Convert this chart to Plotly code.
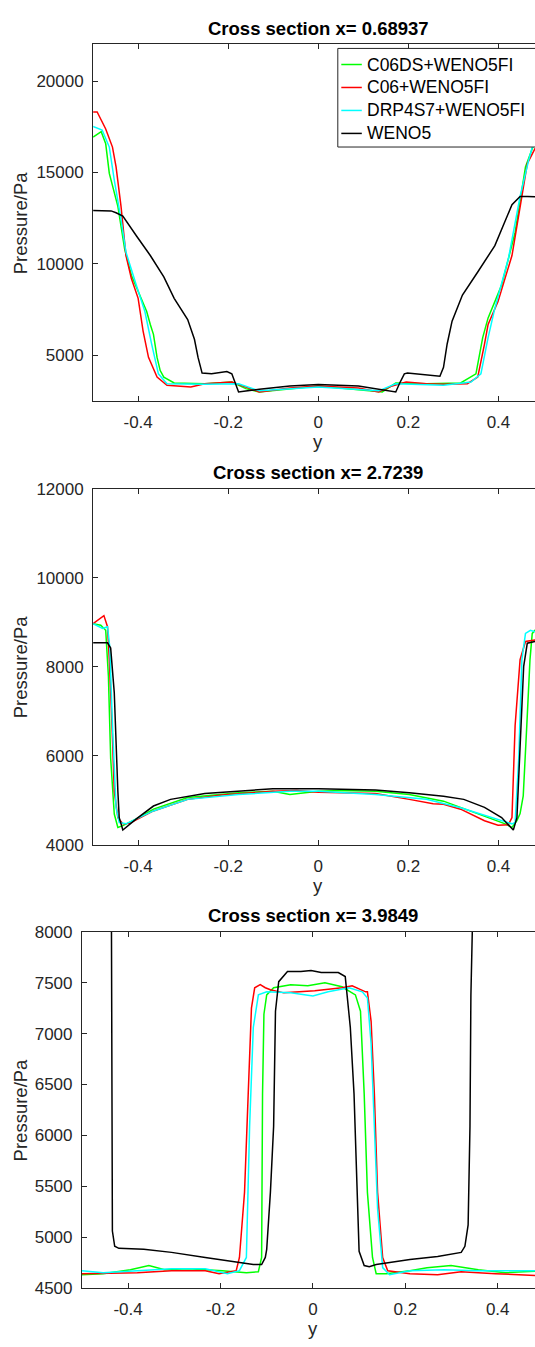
import plotly.graph_objects as go

W, H = 535, 1347

# ---------------- data: cross section x = 0.68937 ----------------
s1_weno5_y = [-0.5, -0.46, -0.449, -0.434, -0.404, -0.373, -0.343, -0.320, -0.290, -0.275, -0.267, -0.258, -0.237, -0.203, -0.192, -0.184, -0.177, -0.161, -0.131, -0.063, 0.0, 0.089, 0.157, 0.172, 0.180, 0.191, 0.198, 0.270, 0.278, 0.286, 0.297, 0.320, 0.354, 0.392, 0.430, 0.448, 0.464, 0.481, 0.5]
s1_weno5_p = [12920, 12900, 12800, 12620, 11540, 10460, 9290, 8120, 6960, 5880, 4890, 4030, 3990, 4120, 3990, 3450, 3000, 3050, 3150, 3330, 3410, 3330, 3090, 3000, 3450, 3990, 4030, 3860, 4350, 5610, 6870, 8300, 9560, 11000, 13240, 13690, 13690, 13660, 13650]

s1_c06_y = [-0.5, -0.491, -0.472, -0.457, -0.449, -0.438, -0.427, -0.415, -0.400, -0.389, -0.377, -0.358, -0.336, -0.283, -0.252, -0.192, -0.161, -0.131, -0.063, 0.0, 0.089, 0.134, 0.164, 0.195, 0.240, 0.278, 0.331, 0.354, 0.369, 0.377, 0.399, 0.430, 0.452, 0.464, 0.481, 0.5]
s1_c06_p = [18310, 18310, 17380, 16390, 15310, 13150, 10460, 9200, 8120, 6330, 4890, 3810, 3360, 3270, 3450, 3540, 3270, 3000, 3220, 3330, 3220, 3000, 3330, 3540, 3450, 3420, 3450, 3810, 5610, 6690, 7940, 10460, 13690, 15490, 16300, 16350]

s1_c06ds_y = [-0.5, -0.482, -0.472, -0.464, -0.445, -0.430, -0.415, -0.396, -0.381, -0.373, -0.366, -0.358, -0.351, -0.343, -0.320, -0.252, -0.192, -0.161, -0.131, 0.0, 0.142, 0.172, 0.240, 0.316, 0.350, 0.365, 0.377, 0.407, 0.437, 0.460, 0.481, 0.5]
s1_c06ds_p = [16930, 17230, 16570, 14950, 13150, 10820, 9380, 8300, 7400, 6690, 6150, 4890, 4170, 3810, 3490, 3450, 3540, 3180, 3000, 3330, 3000, 3490, 3450, 3490, 3990, 5970, 7050, 8840, 11720, 15310, 16700, 16800]

s1_drp_y = [-0.5, -0.480, -0.464, -0.453, -0.438, -0.427, -0.404, -0.385, -0.370, -0.355, -0.336, -0.252, -0.177, -0.131, 0.0, 0.134, 0.172, 0.278, 0.339, 0.361, 0.377, 0.392, 0.422, 0.448, 0.467, 0.481, 0.5]
s1_drp_p = [17520, 17320, 16390, 14590, 12440, 10640, 8840, 7400, 5610, 3990, 3450, 3420, 3450, 3060, 3270, 3060, 3450, 3360, 3540, 3990, 5970, 7580, 10280, 13690, 15670, 16900, 17000]

# ---------------- data: cross section x = 2.7239 ----------------
s2_weno5_y = [-0.5, -0.468, -0.461, -0.453, -0.445, -0.442, -0.434, -0.404, -0.366, -0.328, -0.252, -0.177, -0.101, 0.0, 0.127, 0.202, 0.278, 0.323, 0.369, 0.407, 0.433, 0.441, 0.448, 0.456, 0.464, 0.481, 0.5]
s2_weno5_p = [8540, 8540, 8420, 7420, 5200, 4610, 4330, 4580, 4870, 5020, 5150, 5200, 5260, 5260, 5230, 5170, 5090, 5020, 4840, 4610, 4330, 4610, 6310, 8010, 8530, 8570, 8570]

s2_c06_y = [-0.5, -0.476, -0.468, -0.464, -0.458, -0.453, -0.445, -0.434, -0.419, -0.366, -0.290, -0.214, -0.101, -0.048, 0.0, 0.051, 0.127, 0.202, 0.255, 0.278, 0.316, 0.369, 0.399, 0.422, 0.430, 0.437, 0.448, 0.460, 0.481, 0.5]
s2_c06_p = [8970, 9150, 8900, 8160, 6680, 5200, 4610, 4470, 4480, 4760, 5020, 5120, 5200, 5220, 5180, 5170, 5150, 5020, 4920, 4910, 4800, 4540, 4440, 4450, 4610, 6680, 8160, 8570, 8600, 8600]

s2_c06ds_y = [-0.5, -0.483, -0.472, -0.466, -0.461, -0.453, -0.445, -0.434, -0.404, -0.366, -0.290, -0.177, -0.101, -0.063, 0.0, 0.051, 0.127, 0.202, 0.278, 0.354, 0.415, 0.430, 0.441, 0.448, 0.455, 0.463, 0.470, 0.475, 0.481, 0.5]
s2_c06ds_p = [8970, 8935, 8820, 7790, 5940, 4690, 4390, 4430, 4580, 4800, 5060, 5170, 5200, 5130, 5200, 5220, 5200, 5130, 4980, 4690, 4470, 4390, 4540, 4700, 5100, 6700, 8160, 8750, 8820, 8820]

s2_drp_y = [-0.5, -0.487, -0.479, -0.468, -0.463, -0.457, -0.449, -0.442, -0.427, -0.404, -0.366, -0.290, -0.177, -0.063, 0.0, 0.127, 0.240, 0.316, 0.392, 0.430, 0.437, 0.445, 0.452, 0.460, 0.471, 0.481, 0.5]
s2_drp_p = [8970, 8900, 8860, 8900, 8450, 6680, 4830, 4500, 4470, 4580, 4760, 5020, 5130, 5200, 5200, 5130, 5020, 4830, 4580, 4470, 4500, 5940, 8160, 8750, 8820, 8790, 8790]

# ---------------- data: cross section x = 3.9849 ----------------
s3_weno5_y = [-0.5, -0.44, -0.436, -0.434, -0.429, -0.42, -0.366, -0.306, -0.233, -0.159, -0.129, -0.111, -0.103, -0.100, -0.092, -0.085, -0.081, -0.074, -0.055, -0.026, -0.004, 0.018, 0.055, 0.070, 0.081, 0.089, 0.096, 0.100, 0.111, 0.122, 0.137, 0.210, 0.270, 0.321, 0.329, 0.336, 0.340, 0.342, 0.345, 0.35, 0.5]
s3_weno5_p = [8550, 8550, 8000, 5060, 4910, 4890, 4880, 4850, 4800, 4750, 4730, 4730, 4800, 4880, 5440, 6090, 7220, 7510, 7610, 7610, 7620, 7600, 7600, 7560, 7060, 6410, 5440, 4860, 4720, 4710, 4730, 4780, 4810, 4850, 4910, 5120, 6090, 7380, 8000, 8600, 8600]

s3_c06_y = [-0.5, -0.38, -0.306, -0.233, -0.203, -0.166, -0.159, -0.148, -0.140, -0.133, -0.126, -0.114, -0.103, -0.092, -0.063, -0.033, 0.004, 0.063, 0.085, 0.114, 0.118, 0.126, 0.133, 0.140, 0.151, 0.162, 0.21, 0.27, 0.321, 0.395, 0.5]
s3_c06_p = [4640, 4650, 4670, 4670, 4640, 4670, 4800, 5440, 6410, 7250, 7450, 7480, 7450, 7430, 7400, 7410, 7420, 7450, 7470, 7410, 7410, 7120, 6410, 5440, 4800, 4670, 4640, 4630, 4660, 4640, 4620]

s3_c06ds_y = [-0.5, -0.454, -0.395, -0.355, -0.321, -0.27, -0.196, -0.144, -0.118, -0.111, -0.109, -0.106, -0.100, -0.085, -0.048, -0.011, 0.026, 0.048, 0.063, 0.092, 0.103, 0.111, 0.118, 0.129, 0.137, 0.159, 0.21, 0.247, 0.299, 0.358, 0.417, 0.5]
s3_c06ds_p = [4630, 4640, 4680, 4720, 4680, 4690, 4670, 4650, 4660, 4800, 6410, 7190, 7380, 7450, 7480, 7470, 7500, 7480, 7460, 7380, 7220, 6410, 5440, 4800, 4640, 4640, 4670, 4700, 4720, 4680, 4650, 4670]

s3_drp_y = [-0.5, -0.454, -0.38, -0.306, -0.233, -0.185, -0.159, -0.144, -0.137, -0.129, -0.118, -0.100, -0.048, 0.0, 0.033, 0.078, 0.107, 0.118, 0.126, 0.133, 0.140, 0.151, 0.166, 0.21, 0.284, 0.358, 0.417, 0.5]
s3_drp_p = [4670, 4650, 4670, 4690, 4690, 4640, 4670, 4800, 6090, 7060, 7380, 7410, 7400, 7370, 7410, 7450, 7410, 7350, 6900, 6090, 5280, 4700, 4630, 4670, 4680, 4670, 4670, 4670]

titles = ["Cross section x= 0.68937", "Cross section x= 2.7239", "Cross section x= 3.9849"]
names = ["C06DS+WENO5FI", "C06+WENO5FI", "DRP4S7+WENO5FI", "WENO5"]
colors = ["#00ff00", "#ff0000", "#00ffff", "#000000"]
y_ticks = [[5000, 10000, 15000, 20000],
           [4000, 6000, 8000, 10000, 12000],
           [4500, 5000, 5500, 6000, 6500, 7000, 7500, 8000]]
y_ticktext = [[str(v) for v in t] for t in y_ticks]
y_ranges = [[2500, 22000], [4000, 12000], [4500, 8000]]
x_ticks = [-0.4, -0.2, 0, 0.2, 0.4]
x_ticktext = ["-0.4", "-0.2", "0", "0.2", "0.4"]

sections = [
    [(s1_c06ds_y, s1_c06ds_p), (s1_c06_y, s1_c06_p), (s1_drp_y, s1_drp_p), (s1_weno5_y, s1_weno5_p)],
    [(s2_c06ds_y, s2_c06ds_p), (s2_c06_y, s2_c06_p), (s2_drp_y, s2_drp_p), (s2_weno5_y, s2_weno5_p)],
    [(s3_c06ds_y, s3_c06ds_p), (s3_c06_y, s3_c06_p), (s3_drp_y, s3_drp_p), (s3_weno5_y, s3_weno5_p)],
]

# ---------------- layout geometry (pixels) ----------------
ax_left = [93.1, 93.1, 81.9]
ax_full_right = [543.5, 543.5, 543.9]   # axes extend past the page edge
ax_top = [36.0, 486.7, 936.0]
ax_bot = [397.7, 847.7, 1297.3]

FONT = "Liberation Sans, Arial, sans-serif"
AX_COL = "#262626"

def px(x):
    return x / W

def py(y):
    return 1 - y / H

fig = go.Figure()

for i, sec in enumerate(sections):
    xa = "x" if i == 0 else f"x{i+1}"
    ya = "y" if i == 0 else f"y{i+1}"
    for j, (yy, pp) in enumerate(sec):
        fig.add_trace(go.Scatter(
            x=yy, y=pp, mode="lines", name=names[j],
            line=dict(color=colors[j], width=1.5),
            xaxis=xa, yaxis=ya, showlegend=False,
        ))
    span = ax_full_right[i] - ax_left[i]
    x_right = -0.5 + (W - ax_left[i]) / span
    key_x = "xaxis" if i == 0 else f"xaxis{i+1}"
    key_y = "yaxis" if i == 0 else f"yaxis{i+1}"
    fig.layout[key_x] = dict(
        domain=[px(ax_left[i]), 1.0], anchor=ya, range=[-0.5, x_right],
        tickvals=x_ticks, ticktext=x_ticktext, ticks="inside", ticklen=5,
        tickcolor=AX_COL, showline=True, linecolor=AX_COL, linewidth=1,
        mirror="ticks", showgrid=False, zeroline=False,
        tickfont=dict(family=FONT, size=17, color=AX_COL), ticklabelstandoff=6,
    )
    fig.layout[key_y] = dict(
        domain=[py(ax_bot[i]), py(ax_top[i])], anchor=xa, range=y_ranges[i],
        tickvals=y_ticks[i], ticktext=y_ticktext[i], ticks="inside", ticklen=5,
        tickcolor=AX_COL, showline=True, linecolor=AX_COL, linewidth=1, mirror=False,
        showgrid=False, zeroline=False,
        tickfont=dict(family=FONT, size=17, color=AX_COL), ticklabelstandoff=5,
    )
    xc = (ax_left[i] + ax_full_right[i]) / 2
    fig.add_annotation(text=f"<b>{titles[i]}</b>", xref="paper", yref="paper",
                       x=px(xc), y=py(ax_top[i] - 16.5), showarrow=False,
                       xanchor="center", yanchor="middle",
                       font=dict(family=FONT, size=18.5, color="#000000"))
    fig.add_annotation(text="y", xref="paper", yref="paper",
                       x=px(xc), y=py(ax_bot[i] + 41), showarrow=False,
                       xanchor="center", yanchor="middle",
                       font=dict(family=FONT, size=18.5, color=AX_COL))
    fig.add_annotation(text="Pressure/Pa", xref="paper", yref="paper",
                       x=px(20.5), y=py((ax_top[i] + ax_bot[i]) / 2), showarrow=False,
                       textangle=-90, xanchor="center", yanchor="middle",
                       font=dict(family=FONT, size=18.5, color=AX_COL))

# ---------------- legend (top-right of first panel, MATLAB style) ----------------
leg_left, leg_top, leg_bot = 337.8, 40.0, 140.0
row0, row_gap = 56.3, 23.3
fig.add_shape(type="rect", xref="paper", yref="paper",
              x0=px(leg_left), x1=px(545), y0=py(leg_bot), y1=py(leg_top),
              line=dict(color=AX_COL, width=1), fillcolor="white", layer="above")
for j, nm in enumerate(names):
    yr = row0 + j * row_gap
    fig.add_shape(type="line", xref="paper", yref="paper",
                  x0=px(leg_left + 3.5), x1=px(leg_left + 24), y0=py(yr), y1=py(yr),
                  line=dict(color=colors[j], width=1.5), layer="above")
    fig.add_annotation(text=nm, xref="paper", yref="paper",
                       x=px(leg_left + 27), y=py(yr), showarrow=False,
                       xanchor="left", yanchor="middle",
                       font=dict(family=FONT, size=17.5, color="#000000"))

fig.update_layout(
    width=W, height=H, margin=dict(l=0, r=0, t=0, b=0),
    paper_bgcolor="white", plot_bgcolor="white", showlegend=False,
)

fig.write_html(
    "out.html",
    post_script="document.body.style.margin='0px';document.body.style.overflow='hidden';",
)
